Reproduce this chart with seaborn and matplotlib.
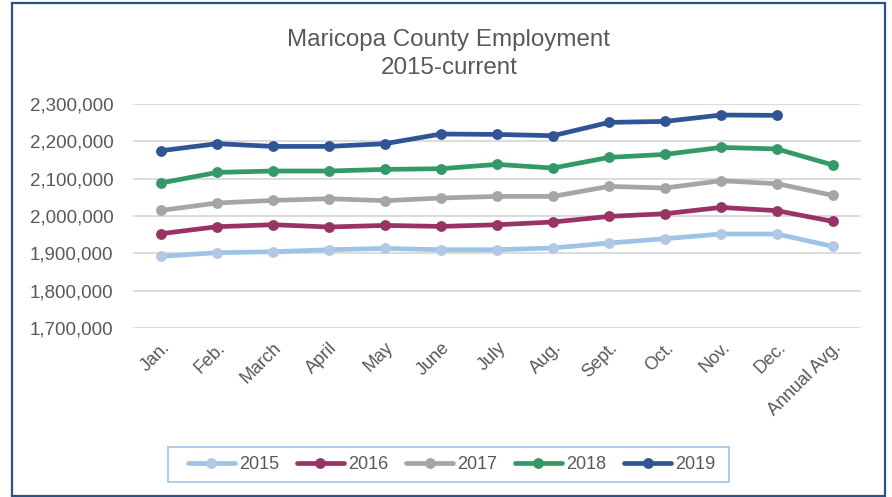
import numpy as np
import pandas as pd
import matplotlib
matplotlib.use("Agg")
import matplotlib.pyplot as plt
import seaborn as sns
from matplotlib.patches import Rectangle
from matplotlib.lines import Line2D
from matplotlib.ticker import FuncFormatter

months = ["Jan.", "Feb.", "March", "April", "May", "June", "July", "Aug.",
          "Sept.", "Oct.", "Nov.", "Dec.", "Annual Avg."]
years = ["2015", "2016", "2017", "2018", "2019"]

emp_2015 = [1891800, 1901700, 1904300, 1909700, 1913200, 1909700, 1909700,
            1914300, 1927600, 1939200, 1951700, 1951700, 1918500]
emp_2016 = [1952600, 1971300, 1976700, 1970500, 1974800, 1972100, 1976500,
            1983900, 1998900, 2006100, 2023000, 2014200, 1985500]
emp_2017 = [2015000, 2034800, 2041800, 2046300, 2041000, 2048200, 2052500,
            2052500, 2079300, 2075000, 2094500, 2086500, 2055200]
emp_2018 = [2088400, 2116800, 2120500, 2120500, 2124800, 2126700, 2138200,
            2128500, 2157000, 2165000, 2183700, 2179500, 2136600]
emp_2019 = [2174900, 2193700, 2186400, 2186400, 2193700, 2219600, 2218500,
            2215100, 2250700, 2253400, 2270500, 2269500, np.nan]

line_colors = ["#9DC3E6", "#993366", "#A5A5A5", "#339966", "#2F5597"]
marker_colors = ["#B4C7E7", "#993366", "#A5A5A5", "#339966", "#2F5597"]

series = [emp_2015, emp_2016, emp_2017, emp_2018, emp_2019]
df = pd.DataFrame({
    "month": months * len(years),
    "year": np.repeat(years, len(months)),
    "employment": np.concatenate(series),
})

sns.set_theme(style="white")
plt.rcParams["font.family"] = ["Liberation Sans", "DejaVu Sans"]
TXT = "#595959"

W, H = 892, 497
fig = plt.figure(figsize=(W / 100, H / 100), dpi=100)
ax = fig.add_axes([133 / W, (H - 328) / H, (861 - 133) / W, (328 - 104) / H])

for yr, lc, mc in zip(years, line_colors, marker_colors):
    sub = df[df["year"] == yr].dropna()
    sns.lineplot(data=sub, x="month", y="employment", ax=ax, sort=False,
                 color=lc, lw=3.4, marker="o", markersize=7.8,
                 markerfacecolor=mc, markeredgecolor=mc, markeredgewidth=0,
                 zorder=3)

ax.set_xlim(-0.5, len(months) - 0.5)
ax.set_ylim(1700000, 2300000)
ax.set_yticks(np.arange(1700000, 2300001, 100000))
ax.yaxis.set_major_formatter(FuncFormatter(lambda v, p: f"{int(v):,}"))
ax.grid(axis="y", color="#D9D9D9", lw=1.3, zorder=0)
ax.grid(axis="x", visible=False)
for s in ax.spines.values():
    s.set_visible(False)
ax.set_xlabel("")
ax.set_ylabel("")
ax.tick_params(axis="y", length=0, pad=14, labelsize=13.5, labelcolor=TXT)
ax.tick_params(axis="x", length=0, pad=8, labelsize=13, labelcolor=TXT)
ax.set_xticks(range(len(months)))
ax.set_xticklabels(months, rotation=45, ha="right", va="top",
                   rotation_mode="anchor")
if ax.get_legend():
    ax.get_legend().remove()

fig.text(449 / W, (H - 45.7) / H, "Maricopa County Employment",
         ha="center", va="baseline", fontsize=17.4, color=TXT)
fig.text(449 / W, (H - 74.3) / H, "2015-current",
         ha="center", va="baseline", fontsize=17.4, color=TXT)

handles = [Line2D([0], [0], color=lc, lw=3.4, marker="o", markersize=7.8,
                  markerfacecolor=mc, markeredgewidth=0)
           for lc, mc in zip(line_colors, marker_colors)]
leg = fig.legend(handles, years, loc="center", ncol=5,
                 bbox_to_anchor=(451.5 / W, 32.5 / H), frameon=False,
                 fontsize=13, handlelength=2.6, handletextpad=0.22,
                 columnspacing=1.0, borderpad=0.3, labelcolor=TXT)

fig.patches.append(Rectangle((168 / W, (H - 482) / H), (729 - 168) / W,
                             (482 - 447) / H, transform=fig.transFigure,
                             fill=False, edgecolor="#9DC3E6", lw=1.2))

fig.patches.append(Rectangle((12 / W, (H - 496) / H), (885 - 12) / W,
                             (496 - 3) / H, transform=fig.transFigure,
                             fill=False, edgecolor="#2A5288", lw=1.6))

fig.savefig("out.png", dpi=100)
